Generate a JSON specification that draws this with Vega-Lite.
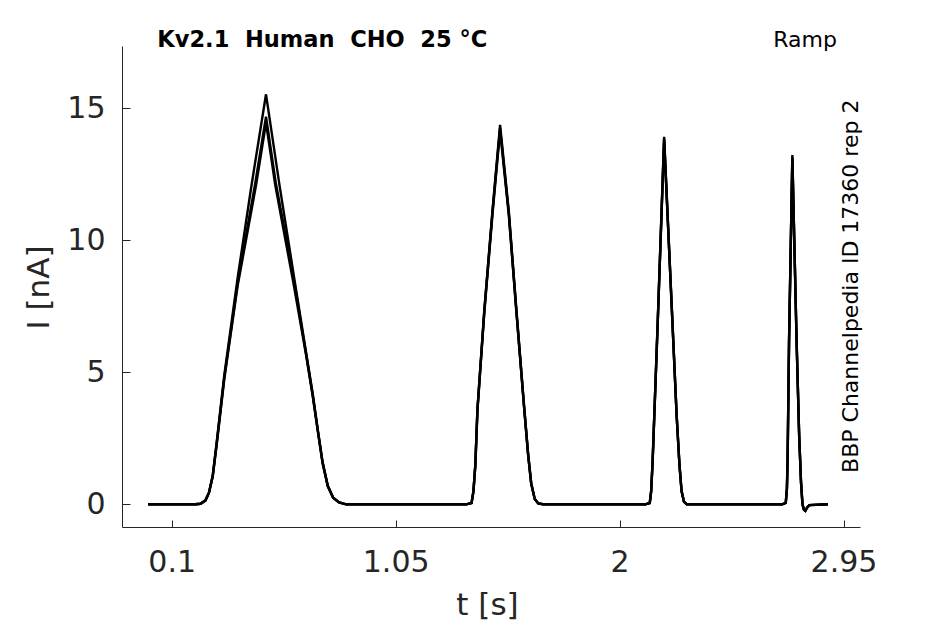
{
  "$schema": "https://vega.github.io/schema/vega-lite/v6.json",
  "width": 738,
  "height": 481,
  "autosize": "none",
  "padding": {"left": 122, "top": 46, "right": 85, "bottom": 97},
  "background": "white",
  "data": {
    "values": [
      {"trace": "s1", "t": 0, "i": 0}, {"trace": "s1", "t": 0.2, "i": 0}, {"trace": "s1", "t": 0.222, "i": 0.02}, {"trace": "s1", "t": 0.243, "i": 0.15},
      {"trace": "s1", "t": 0.258, "i": 0.45}, {"trace": "s1", "t": 0.274, "i": 1.1}, {"trace": "s1", "t": 0.29, "i": 2.3}, {"trace": "s1", "t": 0.323, "i": 4.9},
      {"trace": "s1", "t": 0.38, "i": 8.6}, {"trace": "s1", "t": 0.437, "i": 12.0}, {"trace": "s1", "t": 0.5, "i": 15.53}, {"trace": "s1", "t": 0.557, "i": 12.1},
      {"trace": "s1", "t": 0.62, "i": 8.55}, {"trace": "s1", "t": 0.67, "i": 5.75}, {"trace": "s1", "t": 0.698, "i": 4.2}, {"trace": "s1", "t": 0.72, "i": 2.8},
      {"trace": "s1", "t": 0.74, "i": 1.6}, {"trace": "s1", "t": 0.762, "i": 0.7}, {"trace": "s1", "t": 0.785, "i": 0.25}, {"trace": "s1", "t": 0.81, "i": 0.07},
      {"trace": "s1", "t": 0.84, "i": 0}, {"trace": "s1", "t": 1.35, "i": 0}, {"trace": "s1", "t": 1.372, "i": 0.05}, {"trace": "s1", "t": 1.38, "i": 0.5},
      {"trace": "s1", "t": 1.388, "i": 1.5}, {"trace": "s1", "t": 1.397, "i": 3.6}, {"trace": "s1", "t": 1.426, "i": 7.35}, {"trace": "s1", "t": 1.461, "i": 11.15},
      {"trace": "s1", "t": 1.493, "i": 14.37}, {"trace": "s1", "t": 1.53, "i": 11.1}, {"trace": "s1", "t": 1.562, "i": 7.4}, {"trace": "s1", "t": 1.595, "i": 3.7},
      {"trace": "s1", "t": 1.612, "i": 1.9}, {"trace": "s1", "t": 1.625, "i": 0.8}, {"trace": "s1", "t": 1.64, "i": 0.2}, {"trace": "s1", "t": 1.655, "i": 0.03},
      {"trace": "s1", "t": 1.675, "i": 0}, {"trace": "s1", "t": 2.11, "i": 0}, {"trace": "s1", "t": 2.128, "i": 0.05}, {"trace": "s1", "t": 2.134, "i": 0.5},
      {"trace": "s1", "t": 2.14, "i": 1.6}, {"trace": "s1", "t": 2.162, "i": 6.97}, {"trace": "s1", "t": 2.189, "i": 13.92}, {"trace": "s1", "t": 2.224, "i": 6.97},
      {"trace": "s1", "t": 2.242, "i": 3.4}, {"trace": "s1", "t": 2.254, "i": 1.5}, {"trace": "s1", "t": 2.263, "i": 0.5}, {"trace": "s1", "t": 2.273, "i": 0.1},
      {"trace": "s1", "t": 2.285, "i": 0}, {"trace": "s1", "t": 2.69, "i": 0}, {"trace": "s1", "t": 2.705, "i": 0.05}, {"trace": "s1", "t": 2.71, "i": 0.6},
      {"trace": "s1", "t": 2.713, "i": 1.8}, {"trace": "s1", "t": 2.719, "i": 6.2}, {"trace": "s1", "t": 2.733, "i": 13.23}, {"trace": "s1", "t": 2.751, "i": 6.2},
      {"trace": "s1", "t": 2.762, "i": 2.6}, {"trace": "s1", "t": 2.77, "i": 0.8}, {"trace": "s1", "t": 2.776, "i": 0}, {"trace": "s1", "t": 2.782, "i": -0.2},
      {"trace": "s1", "t": 2.788, "i": -0.25}, {"trace": "s1", "t": 2.796, "i": -0.12}, {"trace": "s1", "t": 2.805, "i": -0.03}, {"trace": "s1", "t": 2.884, "i": 0},

      {"trace": "s2", "t": 0, "i": 0}, {"trace": "s2", "t": 0.2, "i": 0}, {"trace": "s2", "t": 0.222, "i": 0.02}, {"trace": "s2", "t": 0.243, "i": 0.15},
      {"trace": "s2", "t": 0.258, "i": 0.44}, {"trace": "s2", "t": 0.274, "i": 1.08}, {"trace": "s2", "t": 0.29, "i": 2.25}, {"trace": "s2", "t": 0.323, "i": 4.8},
      {"trace": "s2", "t": 0.38, "i": 8.4}, {"trace": "s2", "t": 0.455, "i": 12.2}, {"trace": "s2", "t": 0.5, "i": 14.68}, {"trace": "s2", "t": 0.541, "i": 12.2},
      {"trace": "s2", "t": 0.62, "i": 8.4}, {"trace": "s2", "t": 0.67, "i": 5.7}, {"trace": "s2", "t": 0.698, "i": 4.15}, {"trace": "s2", "t": 0.72, "i": 2.78},
      {"trace": "s2", "t": 0.74, "i": 1.58}, {"trace": "s2", "t": 0.762, "i": 0.7}, {"trace": "s2", "t": 0.785, "i": 0.25}, {"trace": "s2", "t": 0.81, "i": 0.07},
      {"trace": "s2", "t": 0.84, "i": 0}, {"trace": "s2", "t": 1.35, "i": 0}, {"trace": "s2", "t": 1.372, "i": 0.05}, {"trace": "s2", "t": 1.38, "i": 0.5},
      {"trace": "s2", "t": 1.388, "i": 1.5}, {"trace": "s2", "t": 1.397, "i": 3.6}, {"trace": "s2", "t": 1.426, "i": 7.3}, {"trace": "s2", "t": 1.461, "i": 11.1},
      {"trace": "s2", "t": 1.493, "i": 14.25}, {"trace": "s2", "t": 1.53, "i": 11.05}, {"trace": "s2", "t": 1.562, "i": 7.35}, {"trace": "s2", "t": 1.595, "i": 3.7},
      {"trace": "s2", "t": 1.612, "i": 1.9}, {"trace": "s2", "t": 1.625, "i": 0.8}, {"trace": "s2", "t": 1.64, "i": 0.2}, {"trace": "s2", "t": 1.655, "i": 0.03},
      {"trace": "s2", "t": 1.675, "i": 0}, {"trace": "s2", "t": 2.11, "i": 0}, {"trace": "s2", "t": 2.128, "i": 0.05}, {"trace": "s2", "t": 2.134, "i": 0.5},
      {"trace": "s2", "t": 2.14, "i": 1.6}, {"trace": "s2", "t": 2.162, "i": 6.95}, {"trace": "s2", "t": 2.189, "i": 13.85}, {"trace": "s2", "t": 2.224, "i": 6.95},
      {"trace": "s2", "t": 2.242, "i": 3.4}, {"trace": "s2", "t": 2.254, "i": 1.5}, {"trace": "s2", "t": 2.263, "i": 0.5}, {"trace": "s2", "t": 2.273, "i": 0.1},
      {"trace": "s2", "t": 2.285, "i": 0}, {"trace": "s2", "t": 2.69, "i": 0}, {"trace": "s2", "t": 2.705, "i": 0.05}, {"trace": "s2", "t": 2.71, "i": 0.6},
      {"trace": "s2", "t": 2.713, "i": 1.8}, {"trace": "s2", "t": 2.719, "i": 6.2}, {"trace": "s2", "t": 2.733, "i": 13.15}, {"trace": "s2", "t": 2.751, "i": 6.2},
      {"trace": "s2", "t": 2.762, "i": 2.6}, {"trace": "s2", "t": 2.77, "i": 0.8}, {"trace": "s2", "t": 2.776, "i": 0}, {"trace": "s2", "t": 2.782, "i": -0.2},
      {"trace": "s2", "t": 2.788, "i": -0.25}, {"trace": "s2", "t": 2.796, "i": -0.12}, {"trace": "s2", "t": 2.805, "i": -0.03}, {"trace": "s2", "t": 2.884, "i": 0},

      {"trace": "s3", "t": 0, "i": 0}, {"trace": "s3", "t": 0.2, "i": 0}, {"trace": "s3", "t": 0.222, "i": 0.02}, {"trace": "s3", "t": 0.243, "i": 0.14},
      {"trace": "s3", "t": 0.258, "i": 0.43}, {"trace": "s3", "t": 0.274, "i": 1.05}, {"trace": "s3", "t": 0.29, "i": 2.2}, {"trace": "s3", "t": 0.323, "i": 4.75},
      {"trace": "s3", "t": 0.38, "i": 8.3}, {"trace": "s3", "t": 0.458, "i": 12.1}, {"trace": "s3", "t": 0.5, "i": 14.45}, {"trace": "s3", "t": 0.539, "i": 12.1},
      {"trace": "s3", "t": 0.618, "i": 8.3}, {"trace": "s3", "t": 0.67, "i": 5.65}, {"trace": "s3", "t": 0.698, "i": 4.1}, {"trace": "s3", "t": 0.72, "i": 2.75},
      {"trace": "s3", "t": 0.74, "i": 1.55}, {"trace": "s3", "t": 0.762, "i": 0.68}, {"trace": "s3", "t": 0.785, "i": 0.24}, {"trace": "s3", "t": 0.81, "i": 0.07},
      {"trace": "s3", "t": 0.84, "i": 0}, {"trace": "s3", "t": 1.35, "i": 0}, {"trace": "s3", "t": 1.372, "i": 0.05}, {"trace": "s3", "t": 1.38, "i": 0.48},
      {"trace": "s3", "t": 1.388, "i": 1.45}, {"trace": "s3", "t": 1.397, "i": 3.55}, {"trace": "s3", "t": 1.426, "i": 7.25}, {"trace": "s3", "t": 1.461, "i": 11.0},
      {"trace": "s3", "t": 1.493, "i": 14.15}, {"trace": "s3", "t": 1.53, "i": 10.95}, {"trace": "s3", "t": 1.562, "i": 7.3}, {"trace": "s3", "t": 1.595, "i": 3.65},
      {"trace": "s3", "t": 1.612, "i": 1.85}, {"trace": "s3", "t": 1.625, "i": 0.78}, {"trace": "s3", "t": 1.64, "i": 0.2}, {"trace": "s3", "t": 1.655, "i": 0.03},
      {"trace": "s3", "t": 1.675, "i": 0}, {"trace": "s3", "t": 2.11, "i": 0}, {"trace": "s3", "t": 2.128, "i": 0.05}, {"trace": "s3", "t": 2.134, "i": 0.5},
      {"trace": "s3", "t": 2.14, "i": 1.55}, {"trace": "s3", "t": 2.162, "i": 6.9}, {"trace": "s3", "t": 2.189, "i": 13.78}, {"trace": "s3", "t": 2.224, "i": 6.9},
      {"trace": "s3", "t": 2.242, "i": 3.35}, {"trace": "s3", "t": 2.254, "i": 1.5}, {"trace": "s3", "t": 2.263, "i": 0.5}, {"trace": "s3", "t": 2.273, "i": 0.1},
      {"trace": "s3", "t": 2.285, "i": 0}, {"trace": "s3", "t": 2.69, "i": 0}, {"trace": "s3", "t": 2.705, "i": 0.05}, {"trace": "s3", "t": 2.71, "i": 0.6},
      {"trace": "s3", "t": 2.713, "i": 1.75}, {"trace": "s3", "t": 2.719, "i": 6.15}, {"trace": "s3", "t": 2.733, "i": 13.1}, {"trace": "s3", "t": 2.751, "i": 6.15},
      {"trace": "s3", "t": 2.762, "i": 2.55}, {"trace": "s3", "t": 2.77, "i": 0.8}, {"trace": "s3", "t": 2.776, "i": 0}, {"trace": "s3", "t": 2.782, "i": -0.2},
      {"trace": "s3", "t": 2.788, "i": -0.25}, {"trace": "s3", "t": 2.796, "i": -0.12}, {"trace": "s3", "t": 2.805, "i": -0.03}, {"trace": "s3", "t": 2.884, "i": 0}
    ]
  },
  "layer": [
    {
      "mark": {"type": "line", "color": "black", "strokeWidth": 2.4, "strokeJoin": "miter", "clip": true},
      "encoding": {
        "x": {
          "field": "t",
          "type": "quantitative",
          "scale": {"domain": [-0.111, 3.02], "nice": false, "zero": false},
          "axis": {
            "title": "t [s]",
            "values": [0.1, 1.05, 2, 2.95],
            "labelExpr": "'' + datum.value",
            "tickSize": -7,
            "labelPadding": 27,
            "labelFlush": false,
            "titleX": 365,
            "titleY": 87,
            "titleBaseline": "alphabetic"
          }
        },
        "y": {
          "field": "i",
          "type": "quantitative",
          "scale": {"domain": [-0.86, 17.36], "nice": false, "zero": false},
          "axis": {
            "title": "I [nA]",
            "values": [0, 5, 10, 15],
            "format": "d",
            "tickSize": -8,
            "labelPadding": 25,
            "titleX": -74,
            "titleY": 241,
            "titleAngle": 270,
            "titleBaseline": "alphabetic"
          }
        },
        "detail": {"field": "trace", "type": "nominal"}
      }
    },
    {
      "data": {"values": [{"note": "Kv2.1\u00a0 Human\u00a0 CHO\u00a0 25 °C"}]},
      "mark": {"type": "text", "align": "left", "baseline": "alphabetic", "fontSize": 22.5, "fontWeight": "bold", "color": "black"},
      "encoding": {
        "text": {"field": "note", "type": "nominal"},
        "x": {"datum": 0.039},
        "y": {"datum": 17.33}
      }
    },
    {
      "data": {"values": [{"note": "Ramp"}]},
      "mark": {"type": "text", "align": "right", "baseline": "alphabetic", "fontSize": 22, "color": "black"},
      "encoding": {
        "text": {"field": "note", "type": "nominal"},
        "x": {"datum": 2.922},
        "y": {"datum": 17.31}
      }
    },
    {
      "data": {"values": [{"note": "BBP Channelpedia ID 17360 rep 2"}]},
      "mark": {"type": "text", "align": "center", "baseline": "alphabetic", "angle": 270, "fontSize": 22, "color": "black"},
      "encoding": {
        "text": {"field": "note", "type": "nominal"},
        "x": {"datum": 3.012},
        "y": {"datum": 8.26}
      }
    }
  ],
  "config": {
    "font": "DejaVu Sans",
    "view": {"stroke": null},
    "axis": {
      "grid": false,
      "domainColor": "#262626",
      "domainWidth": 1,
      "tickColor": "#262626",
      "tickWidth": 1,
      "labelColor": "#262626",
      "labelFontSize": 30,
      "labelFont": "DejaVu Sans",
      "titleColor": "#262626",
      "titleFontSize": 31,
      "titleFontWeight": "normal",
      "titleFont": "DejaVu Sans"
    }
  }
}
